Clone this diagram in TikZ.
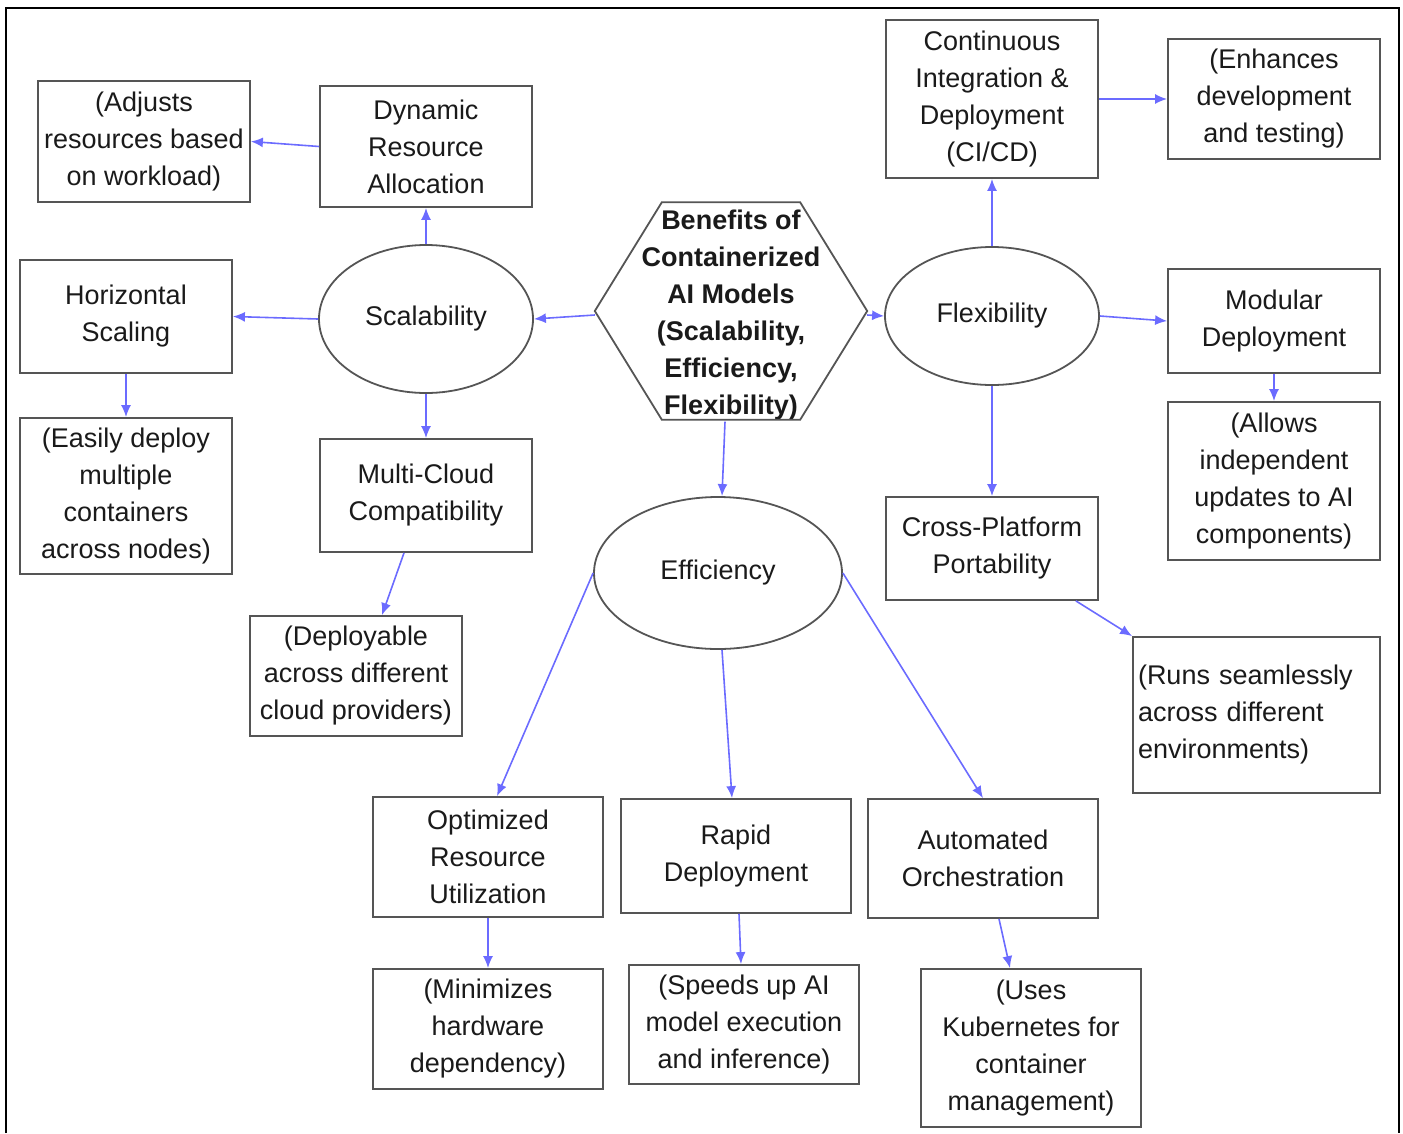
\documentclass[tikz,border=0pt]{standalone}
\usepackage{fontspec}
\setmainfont{Liberation Sans}
\usetikzlibrary{arrows.meta,shapes.geometric,calc}
\definecolor{arrowblue}{HTML}{6B6BFF}
\definecolor{boxgray}{HTML}{555555}
\definecolor{txt}{HTML}{1A1A1A}
\begin{document}
\begin{tikzpicture}[x=1pt,y=-1pt,
  every node/.style={font=\fontsize{27}{37}\selectfont, text=txt},
  box/.style={draw=boxgray, line width=1.8pt, align=center, inner sep=0pt, rectangle},
  oval/.style={draw=boxgray, line width=1.8pt, ellipse, inner sep=0pt},
  conn/.style={draw=arrowblue, line width=1.6pt, -{Latex[length=12pt,width=10pt]}}
]
\useasboundingbox (0,0) rectangle (1403,1133);
\draw[line width=2.5pt, black] (6,1133) -- (6,8) -- (1399,8) -- (1399,1133);

% hub
\node[minimum width=272pt, minimum height=217pt, inner sep=0pt, align=center,
      font=\fontsize{27}{37}\selectfont\bfseries] (hub) at (731,315)
  {Benefits of\\Containerized\\AI Models\\(Scalability,\\Efficiency,\\Flexibility)};
\draw[boxgray, line width=1.8pt] ($(hub.west)+(0,-4)$) -- ($(hub.north west)+(67,-4)$) -- ($(hub.north east)+(-67,-4)$)
  -- ($(hub.east)+(0,-4)$) -- ($(hub.south east)+(-67,-4)$) -- ($(hub.south west)+(67,-4)$) -- cycle;

% ellipses
\node[oval, minimum width=214pt, minimum height=148pt] (scal) at (426,319) {Scalability};
\node[oval, minimum width=214pt, minimum height=138pt] (flex) at (992,316) {Flexibility};
\node[oval, minimum width=248pt, minimum height=152pt] (eff) at (718,573) {Efficiency};

% left side
\node[box, minimum width=212pt, minimum height=121pt] (adj) at (144,141.5) {(Adjusts\\resources based\\on workload)};
\node[box, minimum width=212pt, minimum height=121pt] (dyn) at (426,146.5) {Dynamic\\Resource\\Allocation};
\node[box, minimum width=212pt, minimum height=113pt] (hor) at (126,316.5) {Horizontal\\Scaling};
\node[box, minimum width=212pt, minimum height=156pt] (easy) at (126,496) {(Easily deploy\\multiple\\containers\\across nodes)};
\node[box, minimum width=212pt, minimum height=113pt] (multi) at (426,495.5) {Multi-Cloud\\Compatibility};
\node[box, minimum width=212pt, minimum height=120pt] (depl) at (356,676) {(Deployable\\across different\\cloud providers)};

% right side
\node[box, minimum width=212pt, minimum height=158pt] (cicd) at (992,99) {Continuous\\Integration \&\\Deployment\\(CI/CD)};
\node[box, minimum width=212pt, minimum height=120pt] (enh) at (1274,99) {(Enhances\\development\\and testing)};
\node[box, minimum width=212pt, minimum height=104pt] (mod) at (1274,321) {Modular\\Deployment};
\node[box, minimum width=212pt, minimum height=158pt] (allow) at (1274,481) {(Allows\\independent\\updates to AI\\components)};
\node[box, minimum width=212pt, minimum height=103pt] (cross) at (992,548.5) {Cross-Platform\\Portability};
\node[box, minimum width=247pt, minimum height=156pt, align=left, text width=237pt, inner xsep=5pt] (runs) at (1256.5,715)
  {(Runs seamlessly\\across different\\environments)};

% bottom
\node[box, minimum width=230pt, minimum height=120pt] (opt) at (488,857) {Optimized\\Resource\\Utilization};
\node[box, minimum width=230pt, minimum height=114pt] (rapid) at (736,856) {Rapid\\Deployment};
\node[box, minimum width=230pt, minimum height=119pt] (auto) at (983,858.5) {Automated\\Orchestration};
\node[box, minimum width=230pt, minimum height=120pt] (mini) at (488,1029) {(Minimizes\\hardware\\dependency)};
\node[box, minimum width=230pt, minimum height=119pt] (speed) at (744,1024.5) {(Speeds up AI\\model execution\\and inference)};
\node[box, minimum width=220pt, minimum height=158pt] (uses) at (1031,1048) {(Uses\\Kubernetes for\\container\\management)};

% connectors
\draw[conn] (dyn.west) -- (adj.east);
\draw[conn] (scal.north) -- (dyn.south);
\draw[conn] (scal.west) -- (hor.east);
\draw[conn] (hor.south) -- (easy.north);
\draw[conn] (scal.south) -- (multi.north);
\draw[conn] ($(multi.south)+(-22,0)$) -- ($(depl.north)+(26,0)$);
\draw[conn] (hub.west) -- (scal.east);
\draw[conn] (hub.east) -- (flex.west);
\draw[conn] ($(hub.south)+(-6,-2)$) -- ($(eff.north)+(4,0)$);
\draw[conn] (flex.north) -- (cicd.south);
\draw[conn] (cicd.east) -- (enh.west);
\draw[conn] (flex.east) -- (mod.west);
\draw[conn] (mod.south) -- (allow.north);
\draw[conn] (flex.south) -- (cross.north);
\draw[conn] ($(cross.south east)+(-23,0)$) -- (runs.north west);
\draw[conn] (eff.west) -- ($(opt.north)+(9,0)$);
\draw[conn] ($(eff.south)+(4,0)$) -- ($(rapid.north)+(-4,0)$);
\draw[conn] (eff.east) -- (auto.north);
\draw[conn] (opt.south) -- (mini.north);
\draw[conn] ($(rapid.south)+(3,0)$) -- ($(speed.north)+(-3,0)$);
\draw[conn] ($(auto.south)+(16,0)$) -- ($(uses.north)+(-21,0)$);
\end{tikzpicture}
\end{document}
